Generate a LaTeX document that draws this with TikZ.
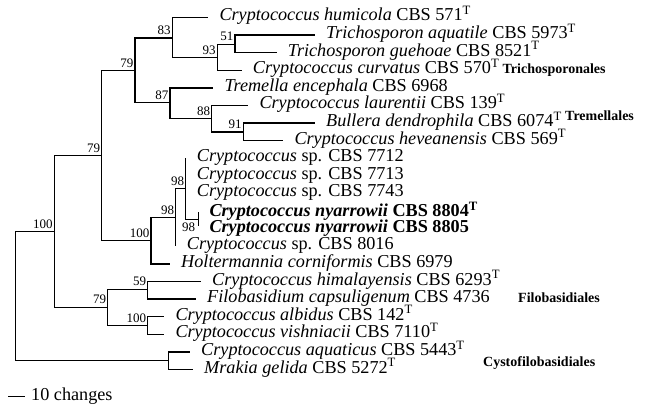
\documentclass[tikz,border=0pt]{standalone}
\usepackage{fontspec}
\setmainfont{Liberation Serif}
\usetikzlibrary{positioning, calc}

\newcommand{\typestrain}{\textsuperscript{T}}

\begin{document}
\begin{tikzpicture}[
    x=1pt, y=-1pt,
    leaf/.style={inner sep=0pt, anchor=west, text height=0.7em, text depth=0pt,
                 font=\fontsize{18.2}{19}\selectfont},
    boot/.style={inner sep=0pt, font=\fontsize{13}{14}\selectfont,
                 anchor=south east, xshift=-1.5pt, yshift=3pt},
    order/.style={inner sep=0pt, anchor=base west,
                  font=\fontsize{14}{15}\selectfont\bfseries},
    branch/.style={line width=1.25pt},
    node distance=11pt
  ]
  \useasboundingbox (0,0) rectangle (646,409);

  % Internal nodes
  \coordinate (root)  at (15.7, 296.5);
  \coordinate (n100a) at (54.3, 231.7);
  \coordinate (n79a)  at (101.7, 155.7);
  \coordinate (n79b)  at (135, 70.7);
  \coordinate (n83)   at (172.3, 38);
  \coordinate (n93)   at (217.3, 57.7);
  \coordinate (n51)   at (235, 44.3);
  \coordinate (n87)   at (170, 102.7);
  \coordinate (n88)   at (211.7, 118.7);
  \coordinate (n91)   at (243.3, 131.9);
  \coordinate (n100b) at (151, 240.7);
  \coordinate (n98a)  at (175.7, 217.7);
  \coordinate (n98b)  at (185.7, 188.8);
  \coordinate (n98c)  at (198.3, 219.3);
  \coordinate (n79c)  at (107.7, 307.3);
  \coordinate (n59)   at (147.7, 289.3);
  \coordinate (n100c) at (147.7, 325.5);
  \coordinate (ncyst) at (168.3, 360.7);

  % Tips
  \coordinate (humicola)   at (208.3, 17.5);
  \coordinate (aquatile)   at (315, 35.1);
  \coordinate (guehoae)    at (276.7, 52.7);
  \coordinate (curvatus)   at (241.7, 70.3);
  \coordinate (tremella)   at (213.3, 87.9);
  \coordinate (laurentii)  at (248.3, 105.5);
  \coordinate (bullera)    at (315, 123.1);
  \coordinate (heveanensis) at (283.3, 140.7);
  \coordinate (sp7712)     at (185.7, 158.3);
  \coordinate (sp7713)     at (185.7, 175.9);
  \coordinate (sp7743)     at (185.7, 193.5);
  \coordinate (ny8804)     at (198.3, 212.3);
  \coordinate (ny8805)     at (198.3, 226.3);
  \coordinate (sp8016)     at (175.7, 246.3);
  \coordinate (holterm)    at (170, 263.9);
  \coordinate (himalay)    at (201, 281.5);
  \coordinate (filobas)    at (196, 299.1);
  \coordinate (albidus)    at (164.3, 316.7);
  \coordinate (vishniac)   at (164.3, 334.3);
  \coordinate (aquaticus)  at (190, 351.9);
  \coordinate (mrakia)     at (193, 369.5);

  % Branches
  \draw[branch] (root) |- (n100a);
  \draw[branch] (root) |- (ncyst);
  \draw[branch] (n100a) |- (n79a);
  \draw[branch] (n100a) |- (n79c);
  \draw[branch] (n79a) |- (n79b);
  \draw[branch] (n79a) |- (n100b);
  \draw[branch] (n79b) |- (n83);
  \draw[branch] (n79b) |- (n87);
  \draw[branch] (n83) |- (humicola);
  \draw[branch] (n83) |- (n93);
  \draw[branch] (n93) |- (n51);
  \draw[branch] (n93) |- (curvatus);
  \draw[branch] (n51) |- (aquatile);
  \draw[branch] (n51) |- (guehoae);
  \draw[branch] (n87) |- (tremella);
  \draw[branch] (n87) |- (n88);
  \draw[branch] (n88) |- (laurentii);
  \draw[branch] (n88) |- (n91);
  \draw[branch] (n91) |- (bullera);
  \draw[branch] (n91) |- (heveanensis);
  \draw[branch] (n100b) |- (n98a);
  \draw[branch] (n100b) |- (holterm);
  \draw[branch] (n98a) |- (n98b);
  \draw[branch] (n98a) |- (sp8016);
  \draw[branch] (n98b) |- (sp7712);
  \draw[branch] (n98b) |- (n98c);
  \draw[branch] (n98c) |- (ny8804);
  \draw[branch] (n98c) |- (ny8805);
  \draw[branch] (n79c) |- (n59);
  \draw[branch] (n79c) |- (n100c);
  \draw[branch] (n59) |- (himalay);
  \draw[branch] (n59) |- (filobas);
  \draw[branch] (n100c) |- (albidus);
  \draw[branch] (n100c) |- (vishniac);
  \draw[branch] (ncyst) |- (aquaticus);
  \draw[branch] (ncyst) |- (mrakia);

  % Taxa
  \node[leaf, right=of humicola] (t-humicola)
    {\textit{Cryptococcus humicola} CBS 571\typestrain};
  \node[leaf, right=of aquatile] (t-aquatile)
    {\textit{Trichosporon aquatile} CBS 5973\typestrain};
  \node[leaf, right=of guehoae] (t-guehoae)
    {\textit{Trichosporon guehoae} CBS 8521\typestrain};
  \node[leaf, right=of curvatus] (t-curvatus)
    {\textit{Cryptococcus curvatus} CBS 570\typestrain};
  \node[leaf, right=of tremella] (t-tremella)
    {\textit{Tremella encephala} CBS 6968};
  \node[leaf, right=of laurentii] (t-laurentii)
    {\textit{Cryptococcus laurentii} CBS 139\typestrain};
  \node[leaf, right=of bullera] (t-bullera)
    {\textit{Bullera dendrophila} CBS 6074\typestrain};
  \node[leaf, right=of heveanensis] (t-heveanensis)
    {\textit{Cryptococcus heveanensis} CBS 569\typestrain};
  \node[leaf, right=of sp7712] (t-sp7712) {\textit{Cryptococcus} sp. CBS 7712};
  \node[leaf, right=of sp7713] (t-sp7713) {\textit{Cryptococcus} sp. CBS 7713};
  \node[leaf, right=of sp7743] (t-sp7743) {\textit{Cryptococcus} sp. CBS 7743};
  \node[leaf, right=of ny8804, yshift=-1pt] (t-ny8804)
    {\bfseries\textit{Cryptococcus nyarrowii} CBS 8804\typestrain};
  \node[leaf, right=of ny8805, yshift=-2.5pt] (t-ny8805)
    {\bfseries\textit{Cryptococcus nyarrowii} CBS 8805};
  \node[leaf, right=of sp8016] (t-sp8016) {\textit{Cryptococcus} sp. CBS 8016};
  \node[leaf, right=of holterm] (t-holterm)
    {\textit{Holtermannia corniformis} CBS 6979};
  \node[leaf, right=of himalay] (t-himalay)
    {\textit{Cryptococcus himalayensis} CBS 6293\typestrain};
  \node[leaf, right=of filobas] (t-filobas)
    {\textit{Filobasidium capsuligenum} CBS 4736};
  \node[leaf, right=of albidus] (t-albidus)
    {\textit{Cryptococcus albidus} CBS 142\typestrain};
  \node[leaf, right=of vishniac] (t-vishniac)
    {\textit{Cryptococcus vishniacii} CBS 7110\typestrain};
  \node[leaf, right=of aquaticus] (t-aquaticus)
    {\textit{Cryptococcus aquaticus} CBS 5443\typestrain};
  \node[leaf, right=of mrakia] (t-mrakia)
    {\textit{Mrakia gelida} CBS 5272\typestrain};

  % Orders
  \node[order, right=3pt of t-curvatus.base east, anchor=base west] (o-trichos)
    {Trichosporonales};
  \node[order, right=3pt of t-bullera.base east, anchor=base west,
        yshift=6.5pt] (o-tremell) {Tremellales};
  \node[order, right=28pt of t-filobas.base east, anchor=base west] (o-filobas)
    {Filobasidiales};
  \node[order, right=18pt of t-aquaticus.base east, anchor=base west,
        yshift=-11pt] (o-cystofil) {Cystofilobasidiales};

  % Bootstrap values
  \node[boot] (b-root)  at (n100a) {100};
  \node[boot] (b-79a)   at (n79a) {79};
  \node[boot] (b-79b)   at (n79b) {79};
  \node[boot] (b-83)    at (n83) {83};
  \node[boot] (b-93)    at (n93) {93};
  \node[boot] (b-51)    at (n51) {51};
  \node[boot] (b-87)    at (n87) {87};
  \node[boot] (b-88)    at (n88) {88};
  \node[boot] (b-91)    at (n91) {91};
  \node[boot] (b-100b)  at (n100b) {100};
  \node[boot] (b-98a)   at (n98a) {98};
  \node[boot] (b-98b)   at (n98b) {98};
  \node[boot, anchor=north east, xshift=-1.5pt, yshift=-6pt] (b-98c)
    at (n98c) {98};
  \node[boot] (b-79c)   at (n79c) {79};
  \node[boot] (b-59)    at (n59) {59};
  \node[boot] (b-100c)  at (n100c) {100};

  % Scale bar
  \coordinate (bar-l) at (8.3, 396.7);
  \coordinate (bar-r) at (25, 396.7);
  \draw[branch] (bar-l) -- (bar-r);
  \node[leaf, right=6pt of bar-r] (bar-text) {10 changes};

\end{tikzpicture}
\end{document}
